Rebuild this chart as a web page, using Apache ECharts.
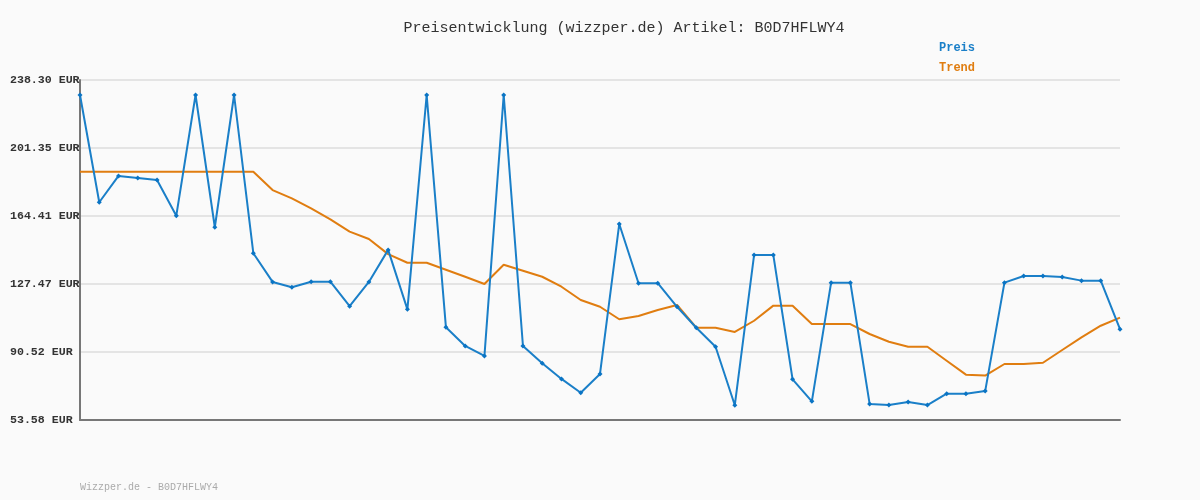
<!DOCTYPE html>
<html>
<head>
<meta charset="utf-8">
<script src="https://cdn.jsdelivr.net/npm/echarts@6/dist/echarts.min.js"></script>
<style>
html,body{margin:0;padding:0;background:#fafafa;}
#chart{width:1200px;height:500px;}
</style>
</head>
<body>
<div id="chart"></div>
<script>
const categories = Array.from({length: 55}, (_, i) => String(i + 1));
const preis = [230.15, 171.9, 186.2, 185.1, 184.0, 164.6, 230.15, 158.3, 230.15, 144.2,
  128.6, 125.7, 128.7, 128.7, 115.4, 128.6, 146.0, 113.7, 230.15, 104.0,
  93.8, 88.4, 230.15, 93.8, 84.4, 75.9, 68.4, 78.6, 160.1, 127.9,
  127.9, 115.1, 103.7, 93.4, 61.6, 143.2, 143.2, 75.7, 63.7, 128.2,
  128.2, 62.3, 61.7, 63.4, 61.7, 67.9, 67.9, 69.3, 128.2, 131.8,
  131.8, 131.3, 129.3, 129.3, 102.9];
const trend = [188.5, 188.5, 188.5, 188.5, 188.5, 188.5, 188.5, 188.5, 188.5, 188.5,
  178.5, 174.0, 168.6, 162.6, 155.9, 151.9, 143.7, 139.0, 139.0, 135.2,
  131.4, 127.5, 137.9, 134.7, 131.4, 126.0, 118.8, 115.1, 108.3, 110.1,
  113.3, 116.1, 103.7, 103.7, 101.4, 107.5, 115.7, 115.7, 105.7, 105.7,
  105.7, 100.3, 96.1, 93.4, 93.4, 85.8, 78.2, 77.7, 84.0, 84.0,
  84.7, 91.6, 98.5, 104.8, 109.2];
const yMin = 53.58, yMax = 238.30;
const yTicks = ['53.58', '90.52', '127.47', '164.41', '201.35', '238.30'];

const chart = echarts.init(document.getElementById('chart'));
const mono = '"Liberation Mono", "DejaVu Sans Mono", monospace';
chart.setOption({
  backgroundColor: '#fafafa',
  animation: false,
  title: {
    text: 'Preisentwicklung (wizzper.de) Artikel: B0D7HFLWY4',
    left: 619, top: 16, textAlign: 'center',
    textStyle: {fontFamily: mono, fontSize: 15, fontWeight: 'normal', color: '#333'}
  },
  legend: {
    orient: 'vertical', left: 934, top: 37, itemGap: 8,
    itemWidth: 0, itemHeight: 0, icon: 'rect',
    data: [
      {name: 'Preis', textStyle: {color: '#1a7fc8'}},
      {name: 'Trend', textStyle: {color: '#e07d10'}}
    ],
    textStyle: {fontFamily: mono, fontSize: 12, fontWeight: 'bold', padding: [0,0,0,-5]},
    selectedMode: false
  },
  graphic: [{
    type: 'text', left: 80, top: 482,
    style: {text: 'Wizzper.de - B0D7HFLWY4', font: '10px ' + mono, fill: '#aaaaaa'}
  }],
  grid: {left: 80, right: 80, top: 80, bottom: 80},
  xAxis: {
    type: 'category', data: categories, boundaryGap: false,
    axisLine: {lineStyle: {color: '#777', width: 2}},
    axisTick: {show: false}, axisLabel: {show: false}, splitLine: {show: false}
  },
  yAxis: {
    type: 'value', min: yMin, max: yMax, interval: (yMax - yMin) / 5,
    axisLine: {show: true, lineStyle: {color: '#777', width: 2}},
    axisTick: {show: false},
    splitLine: {lineStyle: {color: '#e4e4e4', width: 2}},
    axisLabel: {
      align: 'left', margin: 70,
      fontFamily: mono, fontSize: 11.6, fontWeight: 'bold', color: '#333',
      formatter: (v) => {
        let best = yTicks[0], d = Infinity;
        yTicks.forEach(t => { const dd = Math.abs(parseFloat(t) - v); if (dd < d) { d = dd; best = t; } });
        return best + ' EUR';
      }
    }
  },
  series: [
    {
      name: 'Preis', type: 'line', data: preis,
      symbol: 'diamond', symbolSize: 5, showSymbol: true,
      lineStyle: {color: '#1a7fc8', width: 2},
      itemStyle: {color: '#0a74c4'}, z: 3
    },
    {
      name: 'Trend', type: 'line', data: trend,
      symbol: 'none',
      lineStyle: {color: '#e07d10', width: 2},
      itemStyle: {color: '#e07d10'}, z: 2
    }
  ]
});
</script>
</body>
</html>
